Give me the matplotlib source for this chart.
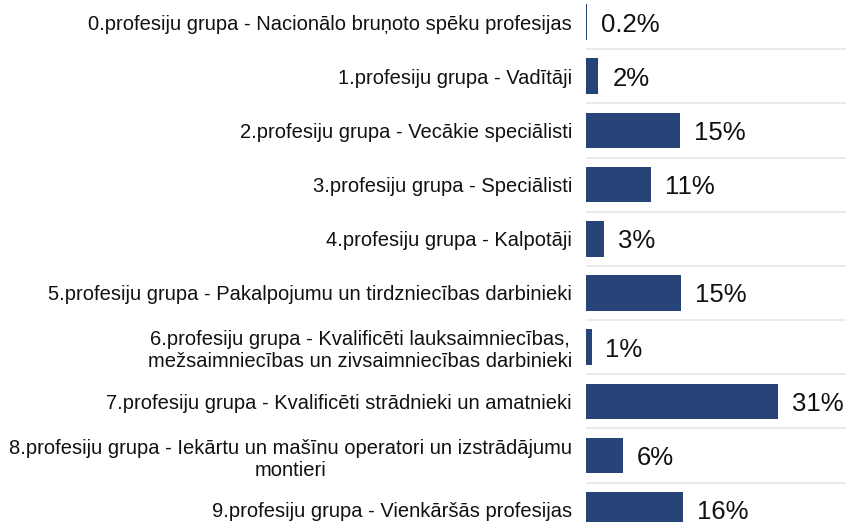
import numpy as np
import matplotlib.pyplot as plt

plt.rcParams['font.family'] = ['Liberation Sans', 'DejaVu Sans']

categories = [
    '0.profesiju grupa - Nacionālo bruņoto spēku profesijas',
    '1.profesiju grupa - Vadītāji',
    '2.profesiju grupa - Vecākie speciālisti',
    '3.profesiju grupa - Speciālisti',
    '4.profesiju grupa - Kalpotāji',
    '5.profesiju grupa - Pakalpojumu un tirdzniecības darbinieki',
    '6.profesiju grupa - Kvalificēti lauksaimniecības,\nmežsaimniecības un zivsaimniecības darbinieki',
    '7.profesiju grupa - Kvalificēti strādnieki un amatnieki',
    '8.profesiju grupa - Iekārtu un mašīnu operatori un izstrādājumu\nmontieri',
    '9.profesiju grupa - Vienkāršās profesijas',
]
values = [0.2, 2.0, 15.1, 10.5, 2.9, 15.4, 0.9, 31.0, 5.9, 15.6]
value_labels = ['0.2%', '2%', '15%', '11%', '3%', '15%', '1%', '31%', '6%', '16%']

fig = plt.figure(figsize=(8.46, 5.22), dpi=100)
ax = fig.add_axes([586 / 846, 0, 1 - 586 / 846, 1])

y = np.arange(len(categories))
ax.barh(y, values, height=0.66, color='#264478', linewidth=0, zorder=3)

# light separators between rows
for b in np.arange(0.5, len(categories) - 1, 1):
    ax.axhline(b, color='#e6e6e6', lw=1.2, zorder=1)

for yi, v, lab in zip(y, values, value_labels):
    ax.annotate(lab, (v, yi), xytext=(10, -1.8), textcoords='offset points',
                va='center', ha='left', fontsize=18.5, color='#111111')

ax.set_yticks(y)
ax.set_yticklabels(categories, fontsize=14.5, color='#111111',
                   multialignment='center', linespacing=1.2)
ax.tick_params(axis='y', length=0, pad=10)
ax.set_xticks([])
ax.set_xlim(0, (846 - 586) / 6.2)
ax.set_ylim((522 - 22) / 54.2, -22 / 54.2)
for s in ax.spines.values():
    s.set_visible(False)

fig.savefig('out.png', dpi=100)
